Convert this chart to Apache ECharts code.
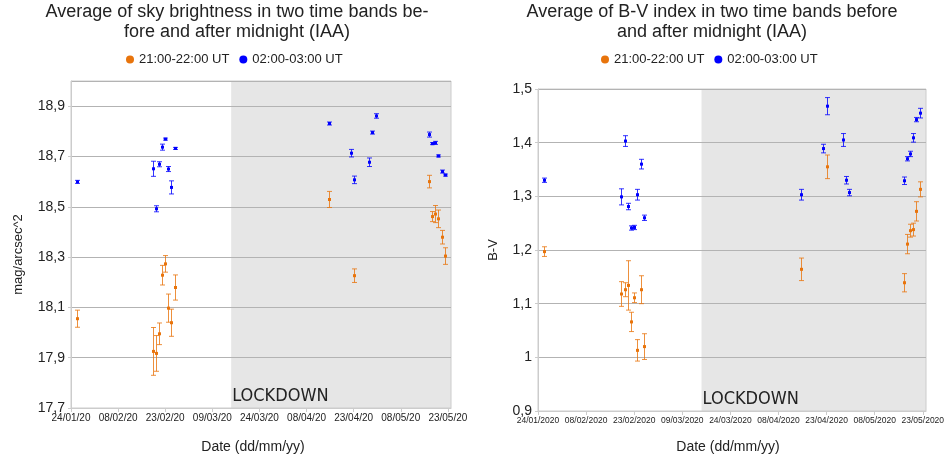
<!DOCTYPE html>
<html>
<head>
<meta charset="utf-8">
<script src="https://cdn.jsdelivr.net/npm/echarts@6/dist/echarts.min.js"></script>
<style>
  html, body { margin: 0; padding: 0; background: #fff; }
  #chart { width: 946px; height: 460px; }
</style>
</head>
<body>
<div id="chart"></div>
<script>
// ---- data (dates are dd/mm of 2020) ----
const bandNames = ['21:00-22:00 UT', '02:00-03:00 UT'];

const datesEvening = ['26/01', '19/02', '20/02', '21/02', '22/02', '23/02', '24/02', '25/02', '26/02',
  '15/04', '23/04', '17/05', '18/05', '19/05', '20/05', '21/05', '22/05'];
const datesNight = ['26/01', '19/02', '20/02', '21/02', '22/02', '23/02', '24/02', '25/02', '26/02',
  '15/04', '22/04', '23/04', '28/04', '29/04', '30/04', '17/05', '18/05', '19/05', '20/05', '21/05', '22/05'];

// sky brightness (mag/arcsec^2) and its error
const skyEvening    = [18.055, 17.925, 17.917, 17.995, 18.228, 18.273, 18.097, 18.039, 18.179,
  18.529, 18.226, 18.600, 18.461, 18.471, 18.452, 18.379, 18.304];
const skyEveningErr = [0.034, 0.095, 0.071, 0.043, 0.039, 0.033, 0.056, 0.054, 0.050,
  0.032, 0.027, 0.025, 0.020, 0.034, 0.035, 0.027, 0.033];
const skyNight      = [18.599, 18.651, 18.492, 18.669, 18.737, 18.769, 18.650, 18.577, 18.732,
  18.831, 18.713, 18.607, 18.677, 18.795, 18.861, 18.787, 18.751, 18.754, 18.702, 18.640, 18.626];
const skyNightErr   = [0.006, 0.030, 0.012, 0.010, 0.012, 0.004, 0.010, 0.026, 0.004,
  0.006, 0.015, 0.015, 0.017, 0.006, 0.009, 0.010, 0.004, 0.006, 0.004, 0.006, 0.004];

// B-V index and its error
const bvEvening    = [1.197, 1.118, 1.126, 1.134, 1.066, 1.111, 1.013, 1.126, 1.020,
  1.164, 1.355, 1.139, 1.211, 1.236, 1.238, 1.272, 1.313];
const bvEveningErr = [0.009, 0.023, 0.013, 0.046, 0.018, 0.009, 0.020, 0.026, 0.024,
  0.021, 0.022, 0.017, 0.018, 0.012, 0.012, 0.018, 0.014];
const bvNight      = [1.330, 1.299, 1.403, 1.281, 1.241, 1.242, 1.303, 1.360, 1.260,
  1.303, 1.389, 1.468, 1.405, 1.330, 1.307, 1.329, 1.370, 1.379, 1.409, 1.443, 1.455];
const bvNightErr   = [0.004, 0.015, 0.010, 0.006, 0.004, 0.004, 0.010, 0.009, 0.005,
  0.010, 0.008, 0.016, 0.012, 0.007, 0.006, 0.007, 0.004, 0.005, 0.008, 0.004, 0.009];

// axes
const axisStart = '24/01';
const axisEnd = '24/05';
const tickDays = 15;
const skyMin = 17.7, skyMax = 19.0, skyStep = 0.2;
const bvMin = 0.9, bvMax = 1.5, bvStep = 0.1;
const lockdownStart = '15/03';

// ---- helpers ----
const DAY = 86400000;
const T0 = Date.UTC(2020, 0, 24);
function dayOf(s) {
  const [d, m] = s.split('/').map(Number);
  return (Date.UTC(2020, m - 1, d) - T0) / DAY;
}
function dateLabel(v, longYear) {
  if (v % tickDays !== 0) return '';
  const dt = new Date(T0 + v * DAY);
  const dd = String(dt.getUTCDate()).padStart(2, '0');
  const mm = String(dt.getUTCMonth() + 1).padStart(2, '0');
  return dd + '/' + mm + '/' + (longYear ? '2020' : '20');
}
const comma = v => String(+v.toFixed(1)).replace('.', ',');

// sky axis is drawn as offset from skyMin so that ticks start at 17,7
const pts = (dates, vals, errs, base) => dates.map((s, i) => [dayOf(s), vals[i] - base, errs[i]]);

const ORANGE = '#e8740c';
const BLUE = '#0000ff';
const FONT = "'Liberation Sans', Arial, sans-serif";

function errorBar(params, api) {
  const x = api.value(0), y = api.value(1), e = api.value(2);
  const p = api.coord([x, y]);
  const hi = api.coord([x, y + e]);
  const lo = api.coord([x, y - e]);
  const color = api.visual('color');
  const cx = Math.round(p[0]) + 0.5;
  const st = { stroke: color, lineWidth: 1, opacity: 0.8 };
  return {
    type: 'group',
    children: [
      { type: 'line', shape: { x1: cx, y1: hi[1], x2: cx, y2: lo[1] }, style: st },
      { type: 'line', shape: { x1: cx - 2.5, y1: hi[1], x2: cx + 2.5, y2: hi[1] }, style: st },
      { type: 'line', shape: { x1: cx - 2.5, y1: lo[1], x2: cx + 2.5, y2: lo[1] }, style: st },
      { type: 'rect', shape: { x: cx - 1.5, y: p[1] - 1.5, width: 3, height: 3 }, style: { fill: color } }
    ]
  };
}

function errSeries(name, color, idx, data) {
  return {
    name: name,
    type: 'custom',
    xAxisIndex: idx,
    yAxisIndex: idx,
    renderItem: errorBar,
    itemStyle: { color: color },
    encode: { x: 0, y: 1 },
    data: data,
    z: 3
  };
}

function lockSeries(idx) {
  return {
    type: 'line',
    xAxisIndex: idx,
    yAxisIndex: idx,
    data: [],
    silent: true,
    markArea: {
      silent: true,
      z: -1,
      itemStyle: { color: '#e6e6e6' },
      label: {
        show: true,
        position: 'insideBottomLeft',
        distance: 3,
        offset: [-2, 0],
        formatter: 'LOCKDOWN',
        color: '#222',
        fontSize: 18,
        fontFamily: "'DejaVu Sans Condensed', 'Liberation Sans', sans-serif"
      },
      data: [[{ xAxis: dayOf(lockdownStart), name: 'LOCKDOWN' }, { xAxis: dayOf(axisEnd) }]]
    }
  };
}

function xAxis(idx, longYear, labelSize, nameGap, namePad) {
  return {
    type: 'value',
    gridIndex: idx,
    min: 0,
    max: dayOf(axisEnd),
    interval: tickDays,
    name: 'Date (dd/mm/yy)',
    nameLocation: 'middle',
    nameGap: nameGap,
    nameTextStyle: { color: '#222', fontSize: 14, fontFamily: FONT, padding: [0, namePad, 0, 0] },
    axisLine: { lineStyle: { color: '#cccccc' } },
    axisTick: { show: true, length: 4, lineStyle: { color: '#cccccc' } },
    splitLine: { show: false },
    axisLabel: {
      color: '#222', fontSize: labelSize, fontFamily: FONT, margin: 5,
      showMaxLabel: false,
      formatter: v => dateLabel(v, longYear)
    }
  };
}

const yCommon = {
  nameLocation: 'middle',
  axisLine: { show: true, lineStyle: { color: '#cccccc' } },
  axisTick: { show: true, length: 3, lineStyle: { color: '#cccccc' } },
  splitLine: { show: true, lineStyle: { color: '#b3b3b3', width: 1 } }
};

const chart = echarts.init(document.getElementById('chart'), null, { renderer: 'canvas' });

const option = {
  backgroundColor: '#ffffff',
  animation: false,
  textStyle: { fontFamily: FONT },
  title: [
    {
      text: 'Average of sky brightness in two time bands be-\nfore and after midnight (IAA)',
      left: 237, top: 2, padding: 0, textAlign: 'center',
      textStyle: { color: '#222', fontSize: 18, lineHeight: 20, fontWeight: 'normal', fontFamily: FONT }
    },
    {
      text: 'Average of B-V index in two time bands before\nand after midnight (IAA)',
      left: 712, top: 2, padding: 0, textAlign: 'center',
      textStyle: { color: '#222', fontSize: 18, lineHeight: 20, fontWeight: 'normal', fontFamily: FONT }
    }
  ],
  legend: [
    {
      data: bandNames, left: 126, top: 53, padding: 0, icon: 'circle',
      itemWidth: 8, itemHeight: 8, itemGap: 10, selectedMode: false,
      textStyle: { color: '#222', fontSize: 13, fontFamily: FONT }
    },
    {
      data: bandNames, left: 601, top: 53, padding: 0, icon: 'circle',
      itemWidth: 8, itemHeight: 8, itemGap: 10, selectedMode: false,
      textStyle: { color: '#222', fontSize: 13, fontFamily: FONT }
    }
  ],
  grid: [
    { left: 71, right: 495, top: 81, bottom: 52, show: true, borderColor: '#cccccc', borderWidth: 1, outerBoundsMode: 'none' },
    { left: 538, right: 20, top: 89, bottom: 49, show: true, borderColor: '#cccccc', borderWidth: 1, outerBoundsMode: 'none' }
  ],
  xAxis: [
    xAxis(0, false, 10, 32, 16),
    xAxis(1, true, 8.5, 29, 8)
  ],
  yAxis: [
    Object.assign({}, yCommon, {
      gridIndex: 0, type: 'value',
      min: 0, max: +(skyMax - skyMin).toFixed(2), interval: skyStep,
      name: 'mag/arcsec^2', nameGap: 46,
      nameTextStyle: { color: '#222', fontSize: 13, fontFamily: FONT, padding: [0, 20, 0, 0] },
      axisLabel: {
        color: '#222', fontSize: 14, fontFamily: FONT, margin: 6, showMaxLabel: false,
        formatter: v => comma(v + skyMin)
      }
    }),
    Object.assign({}, yCommon, {
      gridIndex: 1, type: 'value',
      min: bvMin, max: bvMax, interval: bvStep,
      name: 'B-V', nameGap: 38,
      nameTextStyle: { color: '#222', fontSize: 13, fontFamily: FONT },
      axisLabel: {
        color: '#222', fontSize: 14, fontFamily: FONT, margin: 6,
        formatter: v => comma(v)
      }
    })
  ],
  series: [
    lockSeries(0),
    lockSeries(1),
    errSeries(bandNames[0], ORANGE, 0, pts(datesEvening, skyEvening, skyEveningErr, skyMin)),
    errSeries(bandNames[1], BLUE, 0, pts(datesNight, skyNight, skyNightErr, skyMin)),
    errSeries(bandNames[0], ORANGE, 1, pts(datesEvening, bvEvening, bvEveningErr, 0)),
    errSeries(bandNames[1], BLUE, 1, pts(datesNight, bvNight, bvNightErr, 0))
  ]
};

chart.setOption(option);
</script>
</body>
</html>
